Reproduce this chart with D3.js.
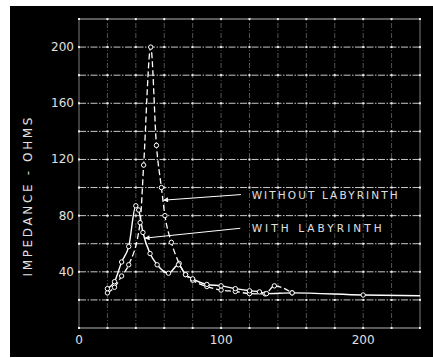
<!DOCTYPE html>
<html>
<head>
<meta charset="utf-8">
<script src="https://cdn.jsdelivr.net/npm/d3@7"></script>
<style>
  body { margin: 0; background: #fff; }
  svg text { font-family: "DejaVu Sans", sans-serif; fill: #e0e0e0; }
</style>
</head>
<body>
<div id="chart"></div>
<script>
// frequency (c/s) vs impedance (ohms)
var withLab = [
  [20, 28], [25, 33], [30, 47], [35, 58], [40, 87], [42, 84], [45, 68], [50, 53],
  [55, 45], [63, 39], [70, 45], [75, 38], [80, 35], [90, 31], [100, 30], [110, 28],
  [120, 26.5], [127, 25.7], [132, 24.5], [150, 25], [200, 23.5], [240, 23]
];
var withoutLab = [
  [20, 25], [25, 29], [30, 37], [35, 45], [43, 75], [45.5, 116], [50.5, 200],
  [54.5, 130], [58, 100], [60.5, 80], [65, 61], [70.5, 46], [75, 38], [80, 34],
  [90, 29.5], [100, 27], [110, 26], [120, 24.5], [131, 24.3], [137.5, 30], [150, 25]
];
var xTickLabels = [0, 100, 200];
var yTickLabels = [40, 80, 120, 160, 200];
var gridX = d3.range(0, 241, 20);
var gridY = d3.range(0, 221, 20);
// annotation: label, arrow start, arrow tip (data units)
var notes = [
  { label: "WITHOUT LABYRINTH", from: [114, 95], to: [59.5, 91] },
  { label: "WITH LABYRINTH", from: [113.5, 71], to: [46.5, 64] }
];

var width = 433, height = 358;
var margin = { top: 19, right: 13, bottom: 30, left: 79 };

var svg = d3.select("#chart").append("svg")
  .attr("width", width)
  .attr("height", height);

svg.append("rect")
  .attr("x", 10).attr("y", 6)
  .attr("width", width - 10).attr("height", height - 7)
  .attr("fill", "#000");

var x = d3.scaleLinear().domain([0, 240]).range([margin.left, width - margin.right]);
var y = d3.scaleLinear().domain([0, 220]).range([height - margin.bottom, margin.top]);

// grid
svg.append("g").selectAll("line").data(gridY).join("line")
  .attr("x1", x(0)).attr("x2", x(240))
  .attr("y1", d => y(d)).attr("y2", d => y(d))
  .attr("stroke", "#c8c8c8")
  .attr("stroke-width", d => (d === 0 || d === 220) ? 0.9 : 1)
  .attr("stroke-dasharray", d => (d === 0 || d === 220) ? null : "7,1.5,1.5,1.5");

svg.append("g").selectAll("line").data(gridX).join("line")
  .attr("x1", d => x(d)).attr("x2", d => x(d))
  .attr("y1", y(0)).attr("y2", y(220))
  .attr("stroke", "#8a8a8a")
  .attr("stroke-width", d => (d === 0 || d === 240) ? 0.9 : 0.6)
  .attr("stroke-dasharray", d => (d === 0 || d === 240) ? null : "5,2,1,2");

// bright dots where grid lines cross
var crossings = [];
gridX.forEach(a => gridY.forEach(b => crossings.push([a, b])));
svg.append("g").selectAll("rect").data(crossings).join("rect")
  .attr("x", d => x(d[0]) - 1).attr("y", d => y(d[1]) - 1)
  .attr("width", 2).attr("height", 2)
  .attr("fill", "#eee");

// axes labels
svg.append("g").selectAll("text").data(yTickLabels).join("text")
  .attr("x", x(0) - 5).attr("y", d => y(d))
  .attr("text-anchor", "end")
  .attr("dominant-baseline", "central")
  .style("font-size", "12px")
  .text(d => d);

svg.append("g").selectAll("text").data(xTickLabels).join("text")
  .attr("x", d => x(d)).attr("y", y(0) + 12)
  .attr("text-anchor", "middle")
  .attr("dominant-baseline", "central")
  .style("font-size", "12px")
  .text(d => d);

svg.append("text")
  .attr("transform", "translate(28," + 197 + ") rotate(-90)")
  .attr("text-anchor", "middle")
  .attr("dominant-baseline", "central")
  .attr("textLength", 159)
  .style("font-size", "12px")
  .text("IMPEDANCE - OHMS");

// curves
var line = d3.line()
  .x(d => x(d[0]))
  .y(d => y(d[1]))
  .curve(d3.curveMonotoneX);

svg.append("path")
  .datum(withoutLab)
  .attr("fill", "none")
  .attr("stroke", "#fff")
  .attr("stroke-width", 1.3)
  .attr("stroke-dasharray", "6,3")
  .attr("d", line);

svg.append("path")
  .datum(withLab)
  .attr("fill", "none")
  .attr("stroke", "#fff")
  .attr("stroke-width", 1.4)
  .attr("d", line);

[withoutLab, withLab.slice(0, -1)].forEach(function(series) {
  svg.append("g").selectAll("circle").data(series).join("circle")
    .attr("cx", d => x(d[0])).attr("cy", d => y(d[1]))
    .attr("r", 2.2)
    .attr("fill", "#000")
    .attr("stroke", "#fff")
    .attr("stroke-width", 1);
});

// annotations
svg.append("defs").append("marker")
  .attr("id", "head")
  .attr("viewBox", "0 0 10 10")
  .attr("refX", 9).attr("refY", 5)
  .attr("markerWidth", 7).attr("markerHeight", 5)
  .attr("orient", "auto")
  .append("path")
  .attr("d", "M0,0 L10,5 L0,10 z")
  .attr("fill", "#fff");

notes.forEach(function(n) {
  svg.append("line")
    .attr("x1", x(n.from[0])).attr("y1", y(n.from[1]))
    .attr("x2", x(n.to[0])).attr("y2", y(n.to[1]))
    .attr("stroke", "#fff")
    .attr("stroke-width", 1)
    .attr("marker-end", "url(#head)");
  svg.append("text")
    .attr("x", x(121.5)).attr("y", y(n.from[1]))
    .attr("dominant-baseline", "central")
    .attr("textLength", n.label.length > 15 ? 146 : 130)
    .style("font-size", "10.5px")
    .text(n.label);
});
</script>
</body>
</html>
